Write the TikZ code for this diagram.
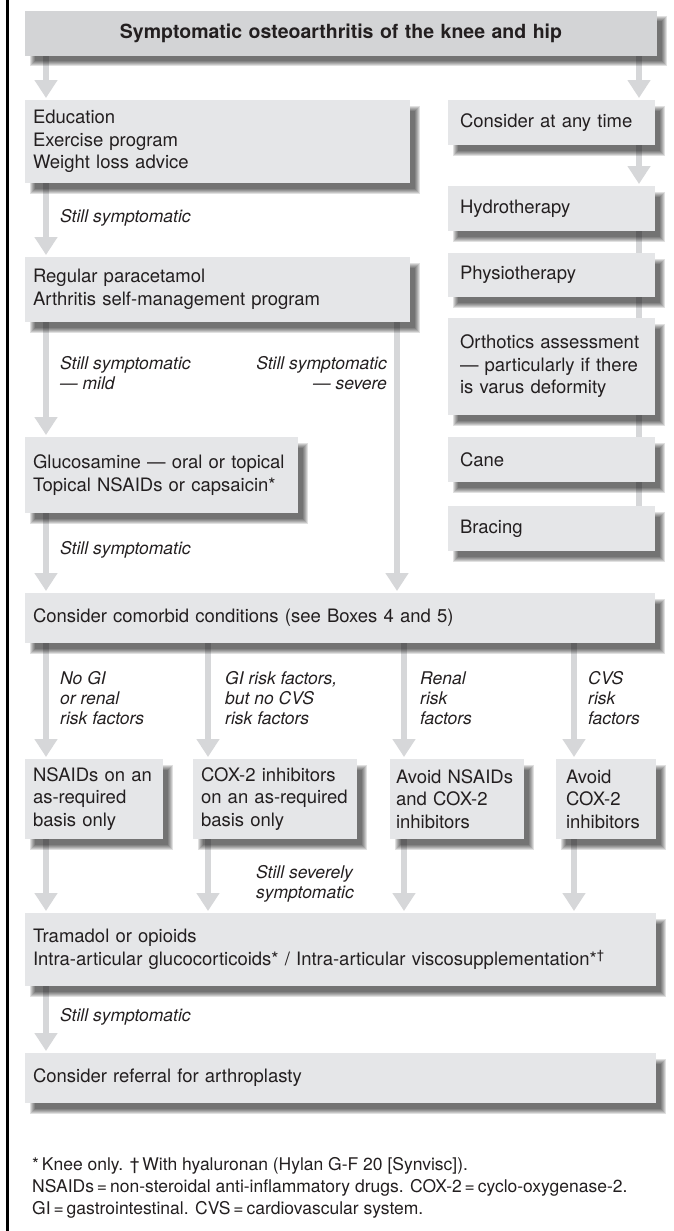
\documentclass[tikz,border=0pt]{standalone}
\usepackage{fontspec}
\setmainfont{TeX Gyre Heros}
\usetikzlibrary{arrows.meta,calc}
\definecolor{boxfill}{HTML}{E5E6E8}
\definecolor{titlefill}{HTML}{D3D4D6}
\definecolor{arrowgray}{HTML}{D6D7D9}
\definecolor{inkcol}{HTML}{231F20}
\pgfdeclarelayer{bglayer}
\pgfdeclarelayer{arrowlayer}
\pgfdeclarelayer{shadowlayer}
\pgfsetlayers{bglayer,arrowlayer,shadowlayer,main}
\newcommand\boxfont{\fontsize{18.5}{22.5}\selectfont}
\newcommand\titlefont{\bfseries\fontsize{19.5}{22}\selectfont}
\newcommand\labfont{\itshape\fontsize{17.5}{20}\selectfont}
\newcommand\footfont{\fontsize{17.5}{22}\selectfont}
\tikzset{
  box/.style={fill=boxfill, anchor=north west, align=left, inner xsep=8pt,
    inner ysep=0pt, outer sep=0pt, font=\boxfont, text=inkcol},
  lab/.style={anchor=north west, align=left, inner sep=0pt, font=\labfont, text=inkcol},
  foot/.style={anchor=north west, align=left, inner sep=0pt, font=\footfont, text=inkcol},
  arr/.style={draw=arrowgray, line width=6pt, -{Triangle[width=22pt,length=18pt]}, shorten >=2pt},
  link/.style={draw=arrowgray, line width=6pt},
}
\begin{document}
\begin{tikzpicture}[x=1pt,y=-1pt]
\useasboundingbox (0,0) rectangle (674,1231);
\begin{pgfonlayer}{bglayer}
\fill[white] (0,0) rectangle (674,1231);
\end{pgfonlayer}
\draw[line width=2.2pt, black] (7.5,0) -- (7.5,1231);

% boxes
\node[box, fill=titlefill, align=center, text width=616pt, minimum height=45pt, font=\titlefont] (title) at (25,11) {Symptomatic osteoarthritis of the knee and hip};
\node[box, text width=369pt, minimum height=83pt] (edu) at (25,100) {Education\\Exercise program\\Weight loss advice};
\node[box, text width=369pt, minimum height=65pt] (para) at (25,257) {Regular paracetamol\\Arthritis self-management program};
\node[box, text width=257pt, minimum height=76pt] (gluc) at (25,437) {Glucosamine — oral or topical\\Topical NSAIDs or capsaicin*};
\node[box, text width=614pt, minimum height=50pt] (comorb) at (25,593) {Consider comorbid conditions (see Boxes 4 and 5)};

\node[box, inner xsep=12pt, text width=183pt, minimum height=45pt] (cons) at (448,100) {Consider at any time};
\node[box, inner xsep=12pt, text width=183pt, minimum height=45pt] (hydro) at (448,186) {Hydrotherapy};
\node[box, inner xsep=12pt, text width=183pt, minimum height=44pt] (physio) at (448,253) {Physiotherapy};
\node[box, inner xsep=12pt, text width=183pt, minimum height=97pt] (ortho) at (448,318) {Orthotics assessment\\— particularly if there\\is varus deformity};
\node[box, inner xsep=12pt, text width=183pt, minimum height=45pt] (cane) at (448,437) {Cane};
\node[box, inner xsep=12pt, text width=183pt, minimum height=45pt] (brace) at (448,506) {Bracing};

\node[box, text width=122pt, minimum height=80pt] (r1) at (25,759) {NSAIDs on an\\as-required\\basis only};
\node[box, text width=148pt, minimum height=80pt] (r2) at (193,759) {COX-2 inhibitors\\on an as-required\\basis only};
\node[box, inner xsep=6pt, text width=122pt, minimum height=80pt] (r3) at (390,759) {Avoid NSAIDs\\and COX-2\\inhibitors};
\node[box, inner xsep=10pt, text width=80pt, minimum height=80pt] (r4) at (556,759) {Avoid\\COX-2\\inhibitors};

\node[box, text width=615pt, minimum height=73pt] (tram) at (25,913) {Tramadol or opioids\\Intra-articular glucocorticoids* / Intra-articular viscosupplementation*\textsuperscript{†}};
\node[box, text width=615pt, minimum height=50pt] (refer) at (25,1053) {Consider referral for arthroplasty};

% labels
\node[lab] (ls1) at (60,209.5) {Still symptomatic};
\node[lab] (lmild) at (60,356.5) {Still symptomatic\\— mild};
\node[lab, anchor=north east, align=right] (lsev) at (387,356.5) {Still symptomatic\\— severe};
\node[lab] (ls2) at (60,541.5) {Still symptomatic};
\node[lab] (lr1) at (60,671.5) {No GI\\or renal\\risk factors};
\node[lab] (lr2) at (225,671.5) {GI risk factors,\\but no CVS\\risk factors};
\node[lab] (lr3) at (420,671.5) {Renal\\risk\\factors};
\node[lab] (lr4) at (588,671.5) {CVS\\risk\\factors};
\node[lab] (lsev2) at (256,865.5) {Still severely\\symptomatic};
\node[lab] (ls3) at (60,1008.5) {Still symptomatic};

\node[foot] (notes) at (32,1157) {*\,Knee only. †\,With hyaluronan (Hylan G-F 20 [Synvisc]).\\NSAIDs\,=\,non-steroidal anti-inflammatory drugs. COX-2\,=\,cyclo-oxygenase-2.\\GI\,=\,gastrointestinal. CVS\,=\,cardiovascular system.};

% connectors
\coordinate (ta) at ($(edu.north west)+(21,0)$);
\coordinate (tb) at ($(cons.north east)+(-16,0)$);
\coordinate (sv) at ($(para.south east)+(-13,0)$);
\coordinate (a1) at ($(r1.north west)+(21,0)$);
\coordinate (a2) at ($(r2.north west)+(15,0)$);
\coordinate (a3) at ($(r3.north west)+(14,0)$);
\coordinate (a4) at ($(r4.north west)+(18,0)$);
\coordinate (b1) at ($(r1.south west)+(21,0)$);
\coordinate (b2) at ($(r2.south west)+(15,0)$);
\coordinate (b3) at ($(r3.south west)+(14,0)$);
\coordinate (b4) at ($(r4.south west)+(18,0)$);
\coordinate (rc) at ($(hydro.south east)+(-16,0)$);

\begin{pgfonlayer}{arrowlayer}
\draw[arr] (title.south -| ta) -- (ta);
\draw[arr] (title.south -| tb) -- (tb);
\draw[arr] (cons.south -| tb) -- (hydro.north -| tb);
\draw[link] (rc) -- (brace.north -| rc);
\draw[arr] (edu.south -| ta) -- (para.north -| ta);
\draw[arr] (para.south -| ta) -- (gluc.north -| ta);
\draw[arr] (sv) -- (comorb.north -| sv);
\draw[arr] (gluc.south -| ta) -- (comorb.north -| ta);
\draw[arr] (comorb.south -| a1) -- (a1);
\draw[arr] (comorb.south -| a2) -- (a2);
\draw[arr] (comorb.south -| a3) -- (a3);
\draw[arr] (comorb.south -| a4) -- (a4);
\draw[arr] (b1) -- (tram.north -| b1);
\draw[arr] (b2) -- (tram.north -| b2);
\draw[arr] (b3) -- (tram.north -| b3);
\draw[arr] (b4) -- (tram.north -| b4);
\draw[arr] (tram.south -| ta) -- (refer.north -| ta);
\end{pgfonlayer}

% soft shadows
\begin{pgfonlayer}{shadowlayer}
\foreach \n in {title,edu,para,gluc,comorb,cons,hydro,physio,ortho,cane,brace,r1,r2,r3,r4,tram,refer}{
  \foreach \i in {0,...,5}{
    \fill[black, opacity=0.12] ($(\n.north west)+(4.5+\i,5.5+\i)$) rectangle ($(\n.south east)+(9.5-\i,10.5-\i)$);
  }
}
\end{pgfonlayer}
\end{tikzpicture}
\end{document}
